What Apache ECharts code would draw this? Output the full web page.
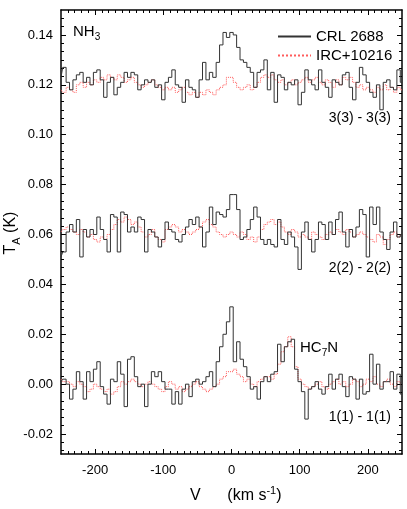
<!DOCTYPE html>
<html>
<head>
<meta charset="utf-8">
<script src="https://cdn.jsdelivr.net/npm/echarts@6/dist/echarts.min.js"></script>
<style>
  html, body { margin: 0; padding: 0; background: #fff; }
  #spec { width: 407px; height: 509px; }
</style>
</head>
<body>
<div id="spec"></div>
<script>
// channel velocities (km/s)
const velocity = [
  -250, -245, -240, -235, -230, -225, -220, -215, -210, -205,
  -200, -195, -190, -185, -180, -175, -170, -165, -160, -155,
  -150, -145, -140, -135, -130, -125, -120, -115, -110, -105,
  -100, -95, -90, -85, -80, -75, -70, -65, -60, -55,
  -50, -45, -40, -35, -30, -25, -20, -15, -10, -5,
  0, 5, 10, 15, 20, 25, 30, 35, 40, 45,
  50, 55, 60, 65, 70, 75, 80, 85, 90, 95,
  100, 105, 110, 115, 120, 125, 130, 135, 140, 145,
  150, 155, 160, 165, 170, 175, 180, 185, 190, 195,
  200, 205, 210, 215, 220, 225, 230, 235, 240, 245,
  250
]

// spectra in mK (before vertical offset)
const crl33 = [
  3, 7, 1, -2, 2, 4, 5, 1, 3, 0,
  5, 6, 2, -5, 1, 3, -4, -1, 1, 5,
  3, 5, 4, -2, 0, 2, 1, 2, -1, 0,
  -6, 1, 3, 6, 0, -1, -7, 2, -1, -2,
  -5, 2, 9, 2, 5, 3, 9, 16, 21, 19,
  21, 20, 15, 10, 9, 7, 5, -1, 5, 6,
  10, -2, 5, -7, 4, 3, -2, 1, 0, 2,
  -8, -3, 6, 2, 0, -2, 6, 1, -1, -5,
  2, 1, 0, 4, 5, -1, -6, 1, 7, 4,
  1, -3, -5, 0, -10, 1, 2, -1, -2, 6,
  1
]
const irc33 = [
  -2, -3, -1, -2, -3, 0, 1, -1, 1, 0,
  2, 1, 3, 2, 4, 3, 2, 4, 3, 1,
  2, 3, 1, 0, -1, 0, 1, 2, 0, -1,
  -2, -1, -2, -1, -3, -2, -1, -3, -4, -3,
  -5, -3, -4, -2, -3, -4, -2, -1, 0, 3,
  3, 1, -1, -2, -1, 0, -2, -1, 1, 3,
  4, 3, 4, 2, 1, 2, 0, 1, 2, 0,
  1, 2, 3, 1, 2, 3, 1, 0, 2, 1,
  -1, 2, 0, 3, 2, 3, 1, -1, 0, -2,
  -1, -2, -3, -1, -2, 0, -2, -1, -3, -1,
  -2
]
const crl22 = [
  -9, -7, 1, 4, 1, 6, -9, 2, -1, 2,
  0, 7, 2, -2, -7, 8, 7, -7, 9, 8,
  1, 3, 1, 7, 6, -7, 2, 1, -1, -5,
  -2, 5, 2, 1, -2, -3, 0, 3, 6, 4,
  7, 3, -5, 1, 11, 4, 9, 8, 7, 10,
  16, 16, 10, -2, -1, 2, 6, 11, 7, -2,
  -4, -2, -4, -5, 6, -2, -4, 1, -1, -5,
  -14, 1, 5, -2, -7, -2, 5, 4, -2, 5,
  0, 6, 9, 1, -5, 2, -1, 3, 10, 8,
  -9, 11, 4, 11, 1, -2, -6, 1, 5, -1,
  0
]
const irc22 = [
  1, 2, 3, 2, 1, 0, 2, 1, -1, 0,
  -2, -3, -1, -2, 0, 2, 4, 6, 5, 7,
  6, 4, 5, 3, 1, -1, 0, 2, -1, -2,
  -3, 2, 3, 4, 3, 1, 2, 1, 0, 1,
  2, 3, 5, 6, 4, 3, 1, 0, -1, 0,
  1, 0, -1, 1, 0, -2, -1, -3, -1, 2,
  4, 5, 6, 4, 5, 3, 1, 0, 2, 1,
  -1, 0, -1, -2, 1, 0, -1, -2, 0, 1,
  0, 2, 1, 0, 2, 1, -1, 0, 1, 0,
  -1, -2, -3, 0, -1, -4, -2, 0, 1, -1,
  0
]
const crl11 = [
  1, 2, 0, -6, -2, 5, 1, -6, 5, 1,
  6, 9, -1, -4, -8, 2, 1, 9, 4, -9,
  10, 11, 3, -1, 0, -9, 0, 5, 3, 5,
  1, -2, -2, -8, -3, -8, -2, 0, -5, 1,
  2, 0, 1, 3, 5, -1, 9, 15, 20, 25,
  31, 9, 17, 10, 7, 3, -2, -1, -6, 1,
  3, 1, 4, 5, 16, 9, 15, 17, 18, 6,
  1, -3, -14, -2, -1, 1, -2, -4, -1, 4,
  -2, 2, 4, -1, -5, 3, 2, -6, 2, -4,
  -3, 12, 0, 8, -2, 1, 1, 5, -2, 4,
  -4
]
const irc11 = [
  2, 1, 1, 0, -1, 1, 0, -1, -3, -2,
  0, -1, -2, -3, -2, -4, -3, -1, 1, 0,
  1, 2, 1, 0, -1, 0, 1, 0, -1, -2,
  -3, -1, 1, 0, -2, -1, -3, -2, -1, 0,
  1, -1, -2, -3, -2, -1, 0, 2, 3, 5,
  5, 6, 4, 3, 1, 2, 0, -1, 1, 2,
  3, 3, 2, 4, 8, 13, 15, 19, 15, 7,
  2, 0, -1, -2, -1, 0, 1, -1, -2, 0,
  1, 2, 0, 1, -1, 0, 2, 1, -1, 0,
  2, 1, 3, 0, -1, 1, 2, 0, -1, 1,
  0
]

// vertical offsets of the three transitions (mK)
const offsets = [120, 60, 0]
const transitions = ['3(3) - 3(3)', '2(2) - 2(2)', '1(1) - 1(1)']

const xTicks = [-200, -100, 0, 100, 200]
const yTicks = [-0.02, 0, 0.02, 0.04, 0.06, 0.08, 0.1, 0.12, 0.14]

const FONT = '"Liberation Sans", Arial, sans-serif'
const xMin = -250, xMax = 250, yMin = -0.028, yMax = 0.15

// minor ticks: every 10 km/s, 6 per 0.02 K
let xMinor = []
for (let v = -240; v < xMax; v += 10) if (v % 100 !== 0) xMinor.push(v)
let yMinor = []
for (let k = -8; k * 0.02 / 6 < yMax - 1e-9; k++) {
  let v = k * 0.02 / 6
  if (v > yMin && ((k % 6) + 6) % 6 !== 0) yMinor.push(+v.toFixed(5))
}

function frameAxis(pos, min, max, ticks, len, labels, idx) {
  const ax = {
    type: 'value', position: pos, min: min, max: max, gridIndex: idx,
    axisLine: { show: idx === 0, onZero: false, lineStyle: { color: '#000', width: 1.5 } },
    axisTick: { show: true, inside: true, length: len, customValues: ticks, lineStyle: { color: '#000', width: 1 } },
    axisLabel: { show: false },
    splitLine: { show: false },
  }
  if (labels) {
    ax.axisLabel = {
      show: true, customValues: ticks, color: '#000', fontSize: 13, fontFamily: FONT,
      margin: pos === 'left' ? 8 : 10,
      formatter: pos === 'left' ? (v) => v.toFixed(2) : (v) => String(v),
    }
  }
  return ax
}

const spectra = [[crl33, irc33], [crl22, irc22], [crl11, irc11]]
let series = []
spectra.forEach((pair, s) => {
  series.push({
    name: 'IRC+10216', type: 'line', step: 'middle', symbol: 'none', z: 2,
    color: '#ff5c5c',
    lineStyle: { color: '#ff5c5c', width: 1, type: 'dotted' },
    data: velocity.map((v, i) => [v, (pair[1][i] + offsets[s]) / 1000]),
  })
  series.push({
    name: 'CRL 2688', type: 'line', step: 'middle', symbol: 'none', z: 3,
    color: '#333',
    lineStyle: { color: '#333', width: 1 },
    data: velocity.map((v, i) => [v, (pair[0][i] + offsets[s]) / 1000]),
  })
})

const rich = {
  m: { fontSize: 15, fontFamily: FONT, lineHeight: 20, verticalAlign: 'middle' },
  s: { fontSize: 10, fontFamily: FONT, lineHeight: 10, verticalAlign: 'bottom' },
  b: { fontSize: 16, fontFamily: FONT, lineHeight: 22, verticalAlign: 'middle' },
  bs: { fontSize: 11, fontFamily: FONT, lineHeight: 11, verticalAlign: 'bottom' },
  sup: { fontSize: 11, fontFamily: FONT, lineHeight: 8, verticalAlign: 'top' },
}
function label(x, y, text, align, rot) {
  return {
    type: 'text', x: x, y: y, rotation: rot || 0, z: 10,
    style: { text: text, rich: rich, fill: '#000', align: align, verticalAlign: 'middle' },
  }
}

let graphics = [
  label(73, 32, '{m|NH}{s|3}', 'left'),
  label(300, 348, '{m|HC}{s|7}{m|N}', 'left'),
  label(190, 496, '{b|V      (km s}{sup|-1}{b|)}', 'left'),
  label(11, 233, '{b|T}{bs|A}{b| (K)}', 'center', Math.PI / 2),
]
const labelY = [118, 268, 417]
transitions.forEach((t, i) => {
  graphics.push({
    type: 'text', x: 391, y: labelY[i], z: 10,
    style: { text: t, fill: '#000', font: '14px ' + FONT, align: 'right', verticalAlign: 'middle' },
  })
})

const gridRect = { left: 61, right: 5, top: 10, bottom: 55 }
const option = {
  animation: false,
  grid: [Object.assign({}, gridRect), Object.assign({}, gridRect)],
  xAxis: [
    frameAxis('bottom', xMin, xMax, xTicks, 5, true, 0),
    frameAxis('top', xMin, xMax, xTicks, 5, false, 0),
    frameAxis('bottom', xMin, xMax, xMinor, 3, false, 1),
    frameAxis('top', xMin, xMax, xMinor, 3, false, 1),
  ],
  yAxis: [
    frameAxis('left', yMin, yMax, yTicks, 5, true, 0),
    frameAxis('right', yMin, yMax, yTicks, 5, false, 0),
    frameAxis('left', yMin, yMax, yMinor, 3, false, 1),
    frameAxis('right', yMin, yMax, yMinor, 3, false, 1),
  ],
  legend: {
    data: ['CRL 2688', 'IRC+10216'],
    orient: 'vertical', left: 272, top: 24,
    itemWidth: 33, itemHeight: 14, itemGap: 4,
    selectedMode: false,
    itemStyle: { opacity: 0 },
    textStyle: { fontSize: 15, color: '#000', fontFamily: FONT },
  },
  series: series,
  graphic: graphics,
}

let chart = echarts.init(document.getElementById('spec'))
chart.setOption(option)
</script>
</body>
</html>
